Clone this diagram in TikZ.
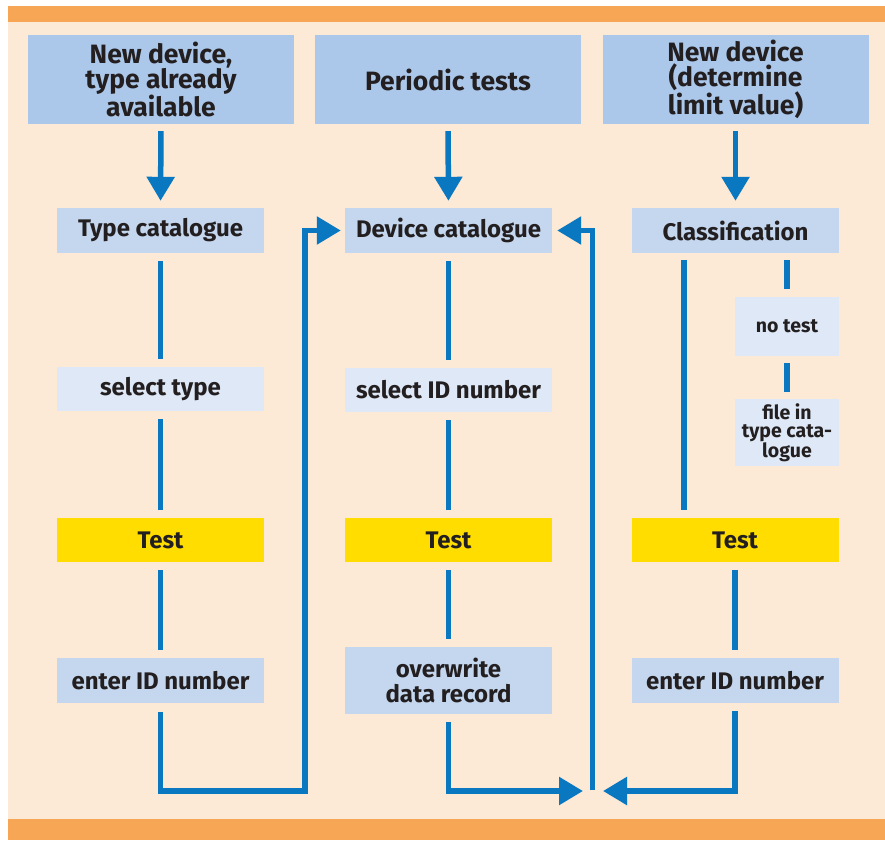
\documentclass[tikz,border=0pt]{standalone}
\usepackage{fontspec}
\setmainfont{Fira Sans}
\usetikzlibrary{arrows.meta}
\definecolor{bgpeach}{HTML}{FCE9D6}
\definecolor{barorange}{HTML}{F7A656}
\definecolor{hdrblue}{HTML}{ABC7E9}
\definecolor{catblue}{HTML}{C4D7EF}
\definecolor{litblue}{HTML}{DEE8F6}
\definecolor{testyel}{HTML}{FFDD00}
\definecolor{lineblue}{HTML}{0A78C1}
\definecolor{txt}{HTML}{231F20}
\tikzset{
  box/.style={fill=#1, inner sep=0pt, align=center, text=txt, font=\bfseries\fontsize{24}{25}\selectfont},
  hdr/.style={box=hdrblue, minimum width=266pt, minimum height=89pt, font=\bfseries\fontsize{26.5}{25}\selectfont},
  cat/.style={box=catblue, minimum width=207pt, minimum height=45pt},
  sel/.style={box=litblue, minimum width=207pt, minimum height=44pt},
  small/.style={box=litblue, minimum width=104pt, font=\bfseries\fontsize{19.5}{18}\selectfont},
  testbox/.style={box=testyel, minimum width=207pt, minimum height=44pt},
  conn/.style={draw=lineblue, line width=5.5pt, line join=miter, shorten <=8pt, shorten >=8pt},
  arr/.style={conn, -{Triangle[length=24pt,width=27pt]}},
}
\begin{document}
\begin{tikzpicture}[x=1pt,y=-1pt]
\useasboundingbox (0,0) rectangle (885,840);
\fill[white] (0,0) rectangle (885,840);
\fill[bgpeach] (8,6) rectangle (885,840);
\fill[barorange] (8,6) rectangle (885,22);
\fill[barorange] (8,819) rectangle (885,840);

% headers
\node[hdr] (h1) at (161,79.5) {New device,\\type already\\available};
\node[hdr] (h2) at (448,79.5) {Periodic tests};
\node[hdr] (h3) at (735.5,79.5) {New device\\(determine\\limit value)};

% row 2
\node[cat] (tc) at (160.5,230.5) {Type catalogue};
\node[cat] (dc) at (448.5,230.5) {Device catalogue};
\node[cat] (cl) at (735.5,230.5) {Classification};

% left column
\node[sel] (st) at (160.5,389) {select type};
\node[testbox] (lt) at (160.5,540) {Test};
\node[cat] (le) at (160.5,680.5) {enter ID number};

% middle column
\node[sel] (sid) at (448.5,390) {select ID number};
\node[testbox] (mt) at (448.5,540) {Test};
\node[cat, minimum height=67pt] (ow) at (448.5,680.5) {overwrite\\data record};

% right column
\node[small, minimum height=59pt] (nt) at (787,326.5) {no test};
\node[small, minimum height=67pt] (fi) at (787,432.5) {file in\\type cata-\\logue};
\node[testbox] (rt) at (735,540) {Test};
\node[cat] (re) at (735,680.5) {enter ID number};

\coordinate (loopL) at (305,791);
\coordinate (mL) at (583,791);
\coordinate (mR) at (603,791);
\coordinate (mC) at (592.5,790);

% header arrows
\draw[arr, shorten <=7pt, shorten >=7pt] (h1.south) -- (tc.north);
\draw[arr, shorten <=7pt, shorten >=7pt] (h2.south) -- (dc.north);
\draw[arr, shorten <=7pt, shorten >=7pt] (h3.south) -- (cl.north);

% left column lines
\draw[conn] (tc) -- (st);
\draw[conn] (st) -- (lt);
\draw[conn] (lt) -- (le);
\draw[arr, shorten <=9pt, shorten >=4pt] (le.south) |- (loopL) |- (dc.west);

% middle column lines
\draw[conn] (dc) -- (sid);
\draw[conn] (sid) -- (mt);
\draw[conn] (mt) -- (ow);
\draw[arr, shorten >=0pt] (ow.south) |- (mL);
\draw[arr, shorten <=0pt, shorten >=5pt] (mC) |- (dc.east);

% right column lines
\draw[conn, shorten <=7pt] ([xshift=-51.5pt]cl.south) -- ([xshift=-51pt]rt.north);
\draw[conn, shorten <=7pt] ([xshift=51.5pt]cl.south) -- (nt.north);
\draw[conn, shorten <=7pt, shorten >=7pt] (nt) -- (fi);
\draw[conn] (rt) -- (re);
\draw[arr, shorten >=0pt] (re.south) |- (mR);
\end{tikzpicture}
\end{document}
